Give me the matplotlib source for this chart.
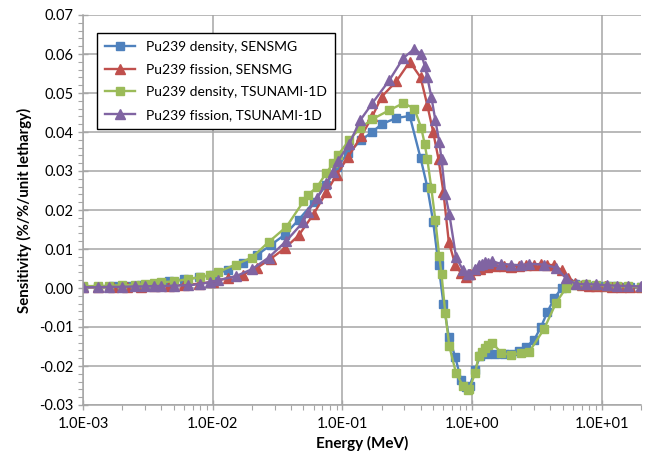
import numpy as np
import matplotlib
matplotlib.use("Agg")
import matplotlib.pyplot as plt
from matplotlib.ticker import FuncFormatter, MultipleLocator, LogLocator, NullFormatter

plt.rcParams['font.family'] = ['Lato', 'DejaVu Sans']

# SENSMG group energies (MeV) and sensitivities
e_sensmg = [0.001, 0.0013, 0.0017, 0.0022, 0.0028, 0.0036, 0.0046, 0.006, 0.0078, 0.01,
            0.013, 0.017, 0.022, 0.028, 0.036, 0.046, 0.06, 0.075, 0.09, 0.11,
            0.14, 0.17, 0.2, 0.26, 0.33, 0.4, 0.45, 0.5, 0.55, 0.6,
            0.66, 0.74, 0.82, 0.9, 0.96, 1.05, 1.15, 1.3, 1.5, 1.75,
            2.0, 2.3, 2.6, 3.0, 3.4, 3.8, 4.3, 4.9, 5.5, 6.2,
            7.0, 8.0, 9.0, 10.5, 12, 14, 16.5, 20]
dens_sensmg = [0.0003, 0.0003, 0.0004, 0.0005, 0.0007, 0.0009, 0.0019, 0.0022, 0.0027, 0.0034,
               0.0046, 0.0065, 0.0085, 0.011, 0.0137, 0.0175, 0.022, 0.0265, 0.031, 0.0345,
               0.038, 0.040, 0.042, 0.0436, 0.0441, 0.0333, 0.026, 0.017, 0.0059, -0.004,
               -0.0125, -0.0177, -0.0235, -0.0255, -0.025, -0.021, -0.0175, -0.0168, -0.0168, -0.017,
               -0.017, -0.0162, -0.0151, -0.0133, -0.0099, -0.0061, -0.0026, 0.0, 0.0013, 0.0009,
               0.0007, 0.0006, 0.0005, 0.0004, 0.0004, 0.0003, 0.0002, 0.0002]
fis_sensmg = [0.0002, 0.0002, 0.0002, 0.0003, 0.0003, 0.0004, 0.0005, 0.0008, 0.0011, 0.0016,
              0.0025, 0.0034, 0.0052, 0.0075, 0.0102, 0.0135, 0.019, 0.0245, 0.029, 0.0335,
              0.039, 0.044, 0.049, 0.053, 0.058, 0.054, 0.047, 0.040, 0.033, 0.0245,
              0.0118, 0.006, 0.0038, 0.0028, 0.0035, 0.0045, 0.005, 0.0055, 0.0057, 0.0056,
              0.0055, 0.0057, 0.0058, 0.006, 0.0062, 0.006, 0.0058, 0.0045, 0.0025, 0.0013,
              0.0008, 0.0006, 0.0005, 0.0004, 0.0003, 0.0003, 0.0002, 0.0002]

# TSUNAMI-1D group energies (MeV) and sensitivities
e_tsunami = [0.001, 0.0013, 0.0016, 0.002, 0.0025, 0.003, 0.0035, 0.004, 0.005, 0.0065,
             0.008, 0.0095, 0.011, 0.015, 0.02, 0.027, 0.037, 0.05, 0.054, 0.064,
             0.075, 0.085, 0.092, 0.113, 0.137, 0.17, 0.23, 0.295, 0.358, 0.405,
             0.43, 0.451, 0.484, 0.52, 0.557, 0.58, 0.62, 0.666, 0.75, 0.85,
             0.92, 0.95, 1.054, 1.12, 1.19, 1.25, 1.33, 1.43, 1.67, 2.0,
             2.38, 2.75, 3.58, 4.43, 5.28, 6.31, 7.5, 9, 11, 13,
             16, 20]
dens_tsunami = [0.0005, 0.0005, 0.0006, 0.0007, 0.0008, 0.0010, 0.0012, 0.0015, 0.0017, 0.0023,
                0.0028, 0.0033, 0.0041, 0.006, 0.0078, 0.0118, 0.0157, 0.0222, 0.0238, 0.026,
                0.0295, 0.032, 0.034, 0.038, 0.041, 0.0433, 0.0456, 0.0474, 0.046, 0.041,
                0.037, 0.033, 0.0256, 0.0174, 0.0082, 0.0036, -0.0064, -0.0149, -0.0218, -0.0251,
                -0.0262, -0.0259, -0.0218, -0.0175, -0.0164, -0.0154, -0.0146, -0.0141, -0.0166, -0.0172,
                -0.0166, -0.0164, -0.0105, -0.0038, 0.0, 0.0008, 0.0009, 0.0008, 0.0006, 0.0005,
                0.0004, 0.0003]
fis_tsunami = [0.0002, 0.0002, 0.0003, 0.0003, 0.0004, 0.0004, 0.0005, 0.0005, 0.0006, 0.0007,
               0.0010, 0.0015, 0.002, 0.003, 0.0048, 0.0078, 0.0121, 0.017, 0.0195, 0.0232,
               0.027, 0.0297, 0.0325, 0.037, 0.043, 0.0474, 0.0533, 0.059, 0.0613, 0.060,
               0.057, 0.054, 0.049, 0.043, 0.0375, 0.033, 0.024, 0.019, 0.008, 0.0045,
               0.0037, 0.0036, 0.0048, 0.0058, 0.0062, 0.0066, 0.0065, 0.0068, 0.0062, 0.006,
               0.0058, 0.0062, 0.006, 0.0052, 0.0025, 0.001, 0.001, 0.0009, 0.0007, 0.0006,
               0.0005, 0.0004]

fig = plt.figure(figsize=(6.51, 4.54), dpi=100)
ax = fig.add_axes([83/651, 1 - 405/454, 558/651, 390/454])

ax.plot(e_sensmg, dens_sensmg, '-s', color='#4F81BD', lw=1.7, ms=6, label='Pu239 density, SENSMG')
ax.plot(e_sensmg, fis_sensmg, '-^', color='#C0504D', lw=1.7, ms=7, label='Pu239 fission, SENSMG')
ax.plot(e_tsunami, dens_tsunami, '-s', color='#9BBB59', lw=1.7, ms=6, label='Pu239 density, TSUNAMI-1D')
ax.plot(e_tsunami, fis_tsunami, '-^', color='#8064A2', lw=1.7, ms=7, label='Pu239 fission, TSUNAMI-1D')

ax.set_xscale('log')
ax.set_xlim(1e-3, 20)
ax.set_ylim(-0.03, 0.07)
ax.yaxis.set_major_locator(MultipleLocator(0.01))
ax.yaxis.set_minor_locator(MultipleLocator(0.002))
ax.yaxis.set_major_formatter(FuncFormatter(lambda v, p: f"{v:.2f}"))
ax.xaxis.set_major_locator(LogLocator(base=10, numticks=10))
ax.xaxis.set_minor_locator(LogLocator(base=10, subs=np.arange(2, 10), numticks=20))
ax.xaxis.set_minor_formatter(NullFormatter())
ax.xaxis.set_major_formatter(FuncFormatter(lambda v, p: f"{v:.1E}"))

gc = '#A6A6A6'
ax.grid(True, which='major', color=gc, lw=1.1)
ax.set_axisbelow(True)
for s in ['top', 'right']:
    ax.spines[s].set_visible(False)
for s in ['left', 'bottom']:
    ax.spines[s].set_color(gc)
    ax.spines[s].set_linewidth(1.1)
ax.tick_params(which='major', direction='inout', length=7, color=gc, width=1, labelsize=10.5, labelcolor='black')
ax.tick_params(which='minor', direction='out', length=3.5, color=gc, width=0.8)
ax.tick_params(axis='x', pad=5)

ax.set_xlabel('Energy (MeV)', fontsize=11, fontweight='bold', labelpad=4)
ax.set_ylabel('Sensitivity (%/%/unit lethargy)', fontsize=10.8, fontweight='bold', labelpad=5)

leg = ax.legend(loc='upper left', bbox_to_anchor=(0.025, 0.954), borderaxespad=0,
                fontsize=10, fancybox=False, framealpha=1, edgecolor='black',
                handlelength=2.2, labelspacing=0.78, borderpad=0.55)
leg.get_frame().set_linewidth(1.0)

fig.savefig('out.png', dpi=100)
